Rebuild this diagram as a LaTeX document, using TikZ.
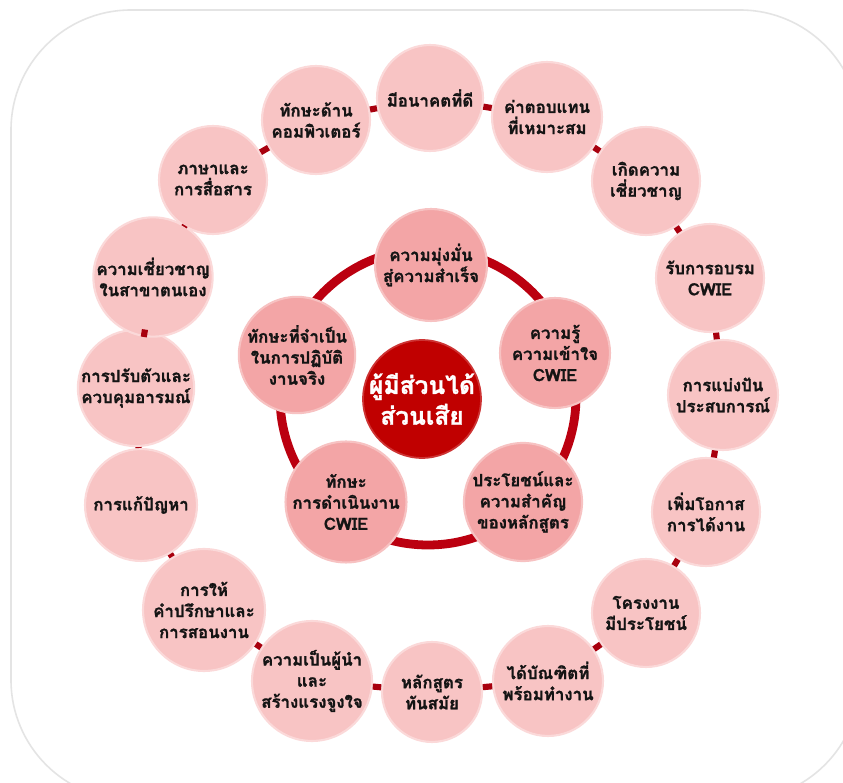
\documentclass[tikz,border=0pt]{standalone}
\usepackage{fontspec}
\newfontfamily\thaifont[Script=Thai, BoldFeatures={FakeBold=1.2}]{Loma}
\definecolor{outerpink}{HTML}{F8C4C4}
\definecolor{outerborder}{HTML}{FBD9D9}
\definecolor{innerpink}{HTML}{F3A5A6}
\definecolor{innerborder}{HTML}{F7C2C2}
\definecolor{hubred}{HTML}{C00000}
\definecolor{ringred}{HTML}{BB0010}
\definecolor{linkred}{HTML}{A8000E}
\definecolor{textdark}{HTML}{141414}
\definecolor{frame}{HTML}{E4E4E4}
\tikzset{
  rad/.style={minimum size={#1*0.04cm}},
  outerc/.style={circle, fill=outerpink, draw=outerborder, line width=1.2pt, inner sep=0pt, align=center, text=textdark,
     font=\thaifont\bfseries\fontsize{9.6}{12}\selectfont},
  innerc/.style={circle, fill=innerpink, draw=innerborder, line width=1.2pt, inner sep=0pt, align=center, text=textdark,
     font=\thaifont\bfseries\fontsize{9.6}{12}\selectfont},
  hubc/.style={circle, fill=hubred, draw=hubred!80!white, line width=1pt, inner sep=0pt, align=center, text=white,
     font=\thaifont\bfseries\fontsize{14}{17.5}\selectfont},
  link/.style={draw=linkred, line width=3.5pt},
  ring/.style={draw=ringred, line width=5pt}
}
\begin{document}
\begin{tikzpicture}[x=0.02cm, y=-0.02cm]
\useasboundingbox (0,0) rectangle (843,783);
\fill[white] (0,0) rectangle (843,783);
\draw[frame, line width=0.9pt, rounded corners=2.4cm] (11,10) rectangle (860,800);

% inner ring behind the inner circles
\draw[ring] (428,397) circle (148);

% outer circles
\node[outerc, rad=53] (o1)  at (430,98)  {มีอนาคตที่ดี};
\node[outerc, rad=55] (o2)  at (547,117) {ค่าตอบแทน\\ที่เหมาะสม};
\node[outerc, rad=54] (o3)  at (646,181) {เกิดความ\\เชี่ยวชาญ};
\node[outerc, rad=54] (o4)  at (710,278) {รับการอบรม\\CWIE};
\node[outerc, rad=55] (o5)  at (723,395) {การแบ่งปัน\\ประสบการณ์};
\node[outerc, rad=54] (o6)  at (706,512) {เพิ่มโอกาส\\การได้งาน};
\node[outerc, rad=54] (o7)  at (646,613) {โครงงาน\\มีประโยชน์};
\node[outerc, rad=55] (o8)  at (548,681) {ได้บัณฑิตที่\\พร้อมทำงาน};
\node[outerc, rad=50] (o9)  at (432,692) {หลักสูตร\\ทันสมัย};
\node[outerc, rad=60] (o10) at (312,681) {ความเป็นผู้นำ\\และ\\สร้างแรงจูงใจ};
\node[outerc, rad=61] (o11) at (204,610) {การให้\\คำปรึกษาและ\\การสอนงาน};
\node[outerc, rad=56] (o12) at (141,505) {การแก้ปัญหา};
\node[outerc, rad=54] (o13) at (136,388) {การปรับตัวและ\\ควบคุมอารมณ์};
\node[outerc, rad=55] (o14) at (153,277) {ความเชี่ยวชาญ\\ในสาขาตนเอง};
\node[outerc, rad=54] (o15) at (213,180) {ภาษาและ\\การสื่อสาร};
\node[outerc, rad=54] (o16) at (316,120) {ทักษะด้าน\\คอมพิวเตอร์};

% links between neighbouring outer circles
\foreach \a/\b in {o1/o2,o2/o3,o3/o4,o4/o5,o5/o6,o6/o7,o7/o8,o8/o9,o9/o10,o10/o11,o11/o12,o12/o13,o13/o14,o14/o15,o15/o16,o16/o1}
  \draw[link] (\a) -- (\b);

% inner circles
\node[innerc, rad=56] (i1) at (431,265) {ความมุ่งมั่น\\สู่ความสำเร็จ};
\node[innerc, rad=55] (i2) at (555,353) {ความรู้\\ความเข้าใจ\\CWIE};
\node[innerc, rad=57] (i3) at (523,502) {ประโยชน์และ\\ความสำคัญ\\ของหลักสูตร};
\node[innerc, rad=55] (i4) at (346,502) {ทักษะ\\การดำเนินงาน\\CWIE};
\node[innerc, rad=55] (i5) at (297,355) {ทักษะที่จำเป็น\\ในการปฏิบัติ\\งานจริง};

% hub
\node[hubc, rad=57] (hub) at (422,399) {ผู้มีส่วนได้\\ส่วนเสีย};
\end{tikzpicture}
\end{document}
